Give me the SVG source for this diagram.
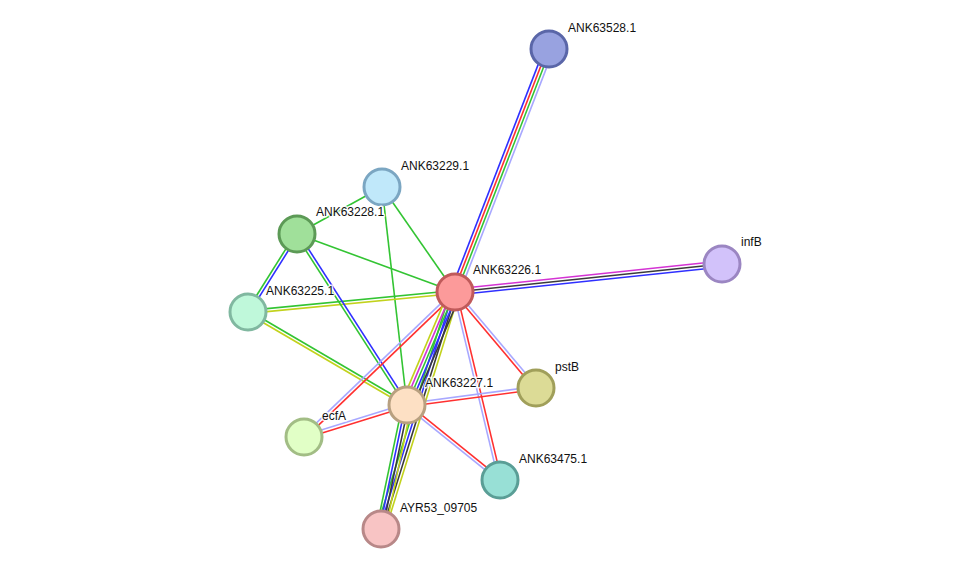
<svg xmlns="http://www.w3.org/2000/svg" width="975" height="575" viewBox="0 0 975 575">
<style>
line{stroke-width:1.6;fill:none}
.g{stroke:#33c433}.r{stroke:#ff3030}.b{stroke:#2f2fff}.k{stroke:#3a3a3a}.m{stroke:#d433d4}.y{stroke:#c2d21c}.h{stroke:#a8a8ff}
circle{stroke-width:3}
text{font-family:"Liberation Sans",Arial,sans-serif;font-size:12px;fill:#111;stroke:#fff;stroke-width:3px;stroke-opacity:0.85;paint-order:stroke;stroke-linejoin:round}
</style>
<rect width="975" height="575" fill="#fff"/>
<g id="edges">
<!-- 63226-63528 -->
<g><line class="b" x1="455" y1="292" x2="549" y2="49" transform="translate(-4.2,-1.62)"/><line class="r" x1="455" y1="292" x2="549" y2="49" transform="translate(-1.4,-0.54)"/><line class="g" x1="455" y1="292" x2="549" y2="49" transform="translate(1.4,0.54)"/><line class="h" x1="455" y1="292" x2="549" y2="49" transform="translate(4.2,1.62)"/></g>
<!-- 63226-infB -->
<g><line class="m" x1="455" y1="292" x2="722" y2="264" transform="translate(-0.31,-2.98)"/><line class="k" x1="455" y1="292" x2="722" y2="264"/><line class="b" x1="455" y1="292" x2="722" y2="264" transform="translate(0.31,2.98)"/></g>
<!-- singles -->
<line class="g" x1="455" y1="292" x2="382" y2="187"/>
<line class="g" x1="455" y1="292" x2="297" y2="234"/>
<line class="g" x1="407" y1="405" x2="382" y2="187"/>
<line class="g" x1="297" y1="234" x2="382" y2="187"/>
<!-- 63226-63225 -->
<g><line class="g" x1="455" y1="292" x2="248" y2="312" transform="translate(-0.14,-1.49)"/><line class="y" x1="455" y1="292" x2="248" y2="312" transform="translate(0.14,1.49)"/></g>
<!-- 63228-63225 -->
<g><line class="g" x1="297" y1="234" x2="248" y2="312" transform="translate(-1.27,-0.8)"/><line class="b" x1="297" y1="234" x2="248" y2="312" transform="translate(1.27,0.8)"/></g>
<!-- 63227-63228 -->
<g><line class="g" x1="407" y1="405" x2="297" y2="234" transform="translate(-1.26,0.81)"/><line class="b" x1="407" y1="405" x2="297" y2="234" transform="translate(1.26,-0.81)"/></g>
<!-- 63227-63225 -->
<g><line class="g" x1="407" y1="405" x2="248" y2="312" transform="translate(0.76,-1.29)"/><line class="y" x1="407" y1="405" x2="248" y2="312" transform="translate(-0.76,1.29)"/></g>
<!-- 63226-ecfA -->
<g><line class="h" x1="455" y1="292" x2="304" y2="437" transform="translate(-1.04,-1.08)"/><line class="r" x1="455" y1="292" x2="304" y2="437" transform="translate(1.04,1.08)"/></g>
<!-- 63226-pstB -->
<g><line class="r" x1="455" y1="292" x2="536" y2="388" transform="translate(-1.15,0.97)"/><line class="h" x1="455" y1="292" x2="536" y2="388" transform="translate(1.15,-0.97)"/></g>
<!-- 63226-63475 -->
<g><line class="h" x1="455" y1="292" x2="500" y2="480" transform="translate(-1.46,0.35)"/><line class="r" x1="455" y1="292" x2="500" y2="480" transform="translate(1.46,-0.35)"/></g>
<!-- 63227-ecfA -->
<g><line class="h" x1="407" y1="405" x2="304" y2="437" transform="translate(-0.45,-1.43)"/><line class="r" x1="407" y1="405" x2="304" y2="437" transform="translate(0.45,1.43)"/></g>
<!-- 63227-pstB -->
<g><line class="h" x1="407" y1="405" x2="536" y2="388" transform="translate(-0.2,-1.49)"/><line class="r" x1="407" y1="405" x2="536" y2="388" transform="translate(0.2,1.49)"/></g>
<!-- 63227-63475 -->
<g><line class="h" x1="407" y1="405" x2="500" y2="480" transform="translate(-0.94,1.17)"/><line class="r" x1="407" y1="405" x2="500" y2="480" transform="translate(0.94,-1.17)"/></g>
<!-- 63226-AYR53 -->
<g><line class="g" x1="455" y1="292" x2="381" y2="529" transform="translate(-4.29,-1.34)"/><line class="b" x1="455" y1="292" x2="381" y2="529" transform="translate(-1.43,-0.45)"/><line class="k" x1="455" y1="292" x2="381" y2="529" transform="translate(1.43,0.45)"/><line class="y" x1="455" y1="292" x2="381" y2="529" transform="translate(4.29,1.34)"/></g>
<!-- 63227-AYR53 -->
<g><line class="g" x1="407" y1="405" x2="381" y2="529" transform="translate(-4.41,-0.92)"/><line class="b" x1="407" y1="405" x2="381" y2="529" transform="translate(-1.47,-0.31)"/><line class="k" x1="407" y1="405" x2="381" y2="529" transform="translate(1.47,0.31)"/><line class="y" x1="407" y1="405" x2="381" y2="529" transform="translate(4.41,0.92)"/></g>
<!-- 63226-63227 -->
<g><line class="y" x1="455" y1="292" x2="407" y2="405" transform="translate(-5.52,-2.35)"/><line class="m" x1="455" y1="292" x2="407" y2="405" transform="translate(-2.76,-1.17)"/><line class="g" x1="455" y1="292" x2="407" y2="405"/><line class="b" x1="455" y1="292" x2="407" y2="405" transform="translate(2.76,1.17)"/><line class="k" x1="455" y1="292" x2="407" y2="405" transform="translate(5.52,2.35)"/></g>
</g>
<g id="ANK63528.1"><circle cx="549" cy="49" r="18" fill="#98a2e0" stroke="#5a66a8"/><text x="568" y="32">ANK63528.1</text></g>
<g id="ANK63229.1"><circle cx="382" cy="187" r="18" fill="#c0e8fa" stroke="#7ba6c2"/><text x="401" y="170">ANK63229.1</text></g>
<g id="ANK63228.1"><circle cx="297" cy="234" r="18" fill="#a0e09a" stroke="#5c9a56"/><text x="316" y="216">ANK63228.1</text></g>
<g id="ANK63226.1"><circle cx="455" cy="292" r="18" fill="#fc9a9a" stroke="#c05a5a"/><text x="473" y="274">ANK63226.1</text></g>
<g id="infB"><circle cx="722" cy="264" r="18" fill="#d2c2fa" stroke="#9b86c2"/><text x="741" y="246">infB</text></g>
<g id="ANK63225.1"><circle cx="248" cy="312" r="18" fill="#bff8da" stroke="#80b8a0"/><text x="266" y="295">ANK63225.1</text></g>
<g id="pstB"><circle cx="536" cy="388" r="18" fill="#dcdb96" stroke="#a09f5a"/><text x="555" y="371">pstB</text></g>
<g id="ANK63227.1"><circle cx="407" cy="405" r="18" fill="#fde0c4" stroke="#b8a080"/><text x="425" y="387">ANK63227.1</text></g>
<g id="ecfA"><circle cx="304" cy="437" r="18" fill="#e1ffc6" stroke="#a2bd85"/><text x="322" y="420">ecfA</text></g>
<g id="ANK63475.1"><circle cx="500" cy="480" r="18" fill="#98e0d6" stroke="#5a9e96"/><text x="519" y="463">ANK63475.1</text></g>
<g id="AYR53_09705"><circle cx="381" cy="529" r="18" fill="#f8c4c4" stroke="#b88888"/><text x="400" y="512">AYR53_09705</text></g>
</svg>
